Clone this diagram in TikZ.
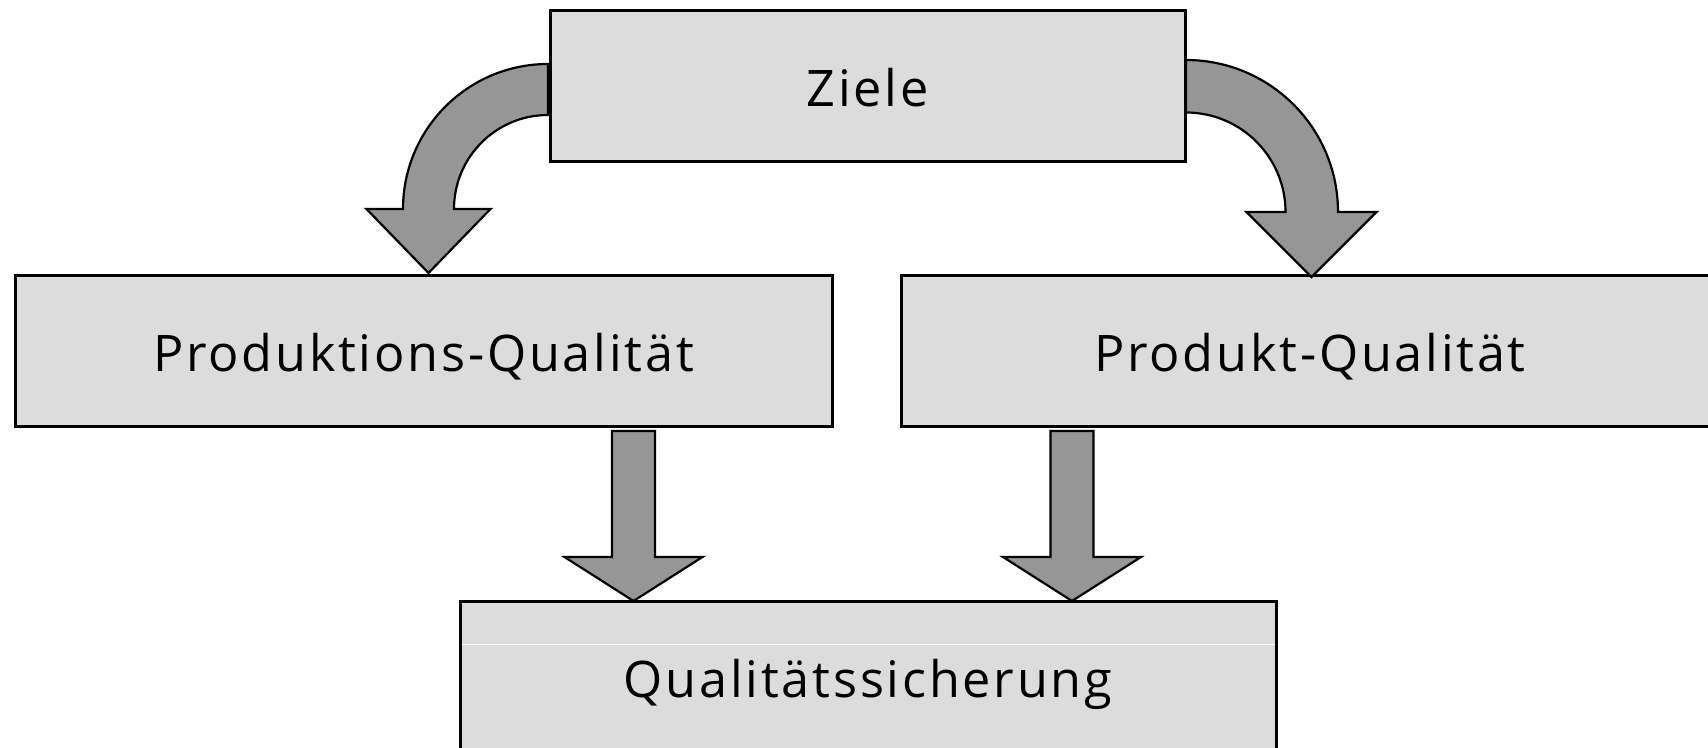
\documentclass[tikz,border=0pt]{standalone}
\usepackage{fontspec}
\setmainfont{Open Sans}[LetterSpace=5.5]
\usetikzlibrary{calc}
\definecolor{boxgray}{HTML}{DCDCDC}
\definecolor{arrowgray}{HTML}{969696}

\begin{document}
\begin{tikzpicture}[x=0.5pt,y=-0.5pt,
  box/.style={draw=black, line width=1.5pt, fill=boxgray, outer sep=0pt,
    minimum height=75.5pt, text height=20.5pt, text depth=0pt,
    font=\fontsize{25.2}{30}\selectfont},
  blk/.style={draw=black, line width=1.1pt, fill=arrowgray, line join=miter}]
  \useasboundingbox (0,0) rectangle (1708,748);
  \clip (0,0) rectangle (1708,748);

  % boxes
  \node[box, minimum width=317.5pt] (zl) at (867.5,86.5) {Ziele};
  \node[box, minimum width=408.5pt] (pq) at (423.5,351.5) {Produktions-Qualität};
  \node[box, minimum width=409pt]   (pk) at (1310,351.5) {Produkt-Qualität};
  \node[box, minimum width=408pt]   (bq) at (868,676.5) {Qualitätssicherung};
  \draw[white, line width=0.5pt] ($(bq.north west)+(1.5,43)$) -- ($(bq.north east)+(-1.5,43)$);

  % curved block arrows from the goals box
  \draw[blk] (548,64) arc[start angle=270, end angle=180, radius=145]
    -- (366.5,209) -- (428.5,273) -- (490.5,209) -- (454,209)
    arc[start angle=180, end angle=270, radius=94] -- cycle;
  \draw[blk] (1186,60) arc[start angle=270, end angle=360, radius=152]
    -- (1376.5,212) -- (1311.5,277) -- (1246.5,212) -- (1285.5,212)
    arc[start angle=360, end angle=270, radius=99.5] -- cycle;

  % straight block arrows into the bottom box
  \coordinate (s1) at ($(pq.south)+(210,4)$);
  \coordinate (t1) at (s1 |- bq.north);
  \coordinate (s2) at ($(pk.south)+(-238,4)$);
  \coordinate (t2) at (s2 |- bq.north);
  \foreach \s/\t in {s1/t1, s2/t2}{
    \draw[blk] ($(\s)+(-21.5,0)$) -- ($(\s)+(21.5,0)$) -- ($(\t)+(21.5,-44)$)
      -- ($(\t)+(69,-44)$) -- (\t) -- ($(\t)+(-69,-44)$)
      -- ($(\t)+(-21.5,-44)$) -- cycle;
  }
\end{tikzpicture}
\end{document}
